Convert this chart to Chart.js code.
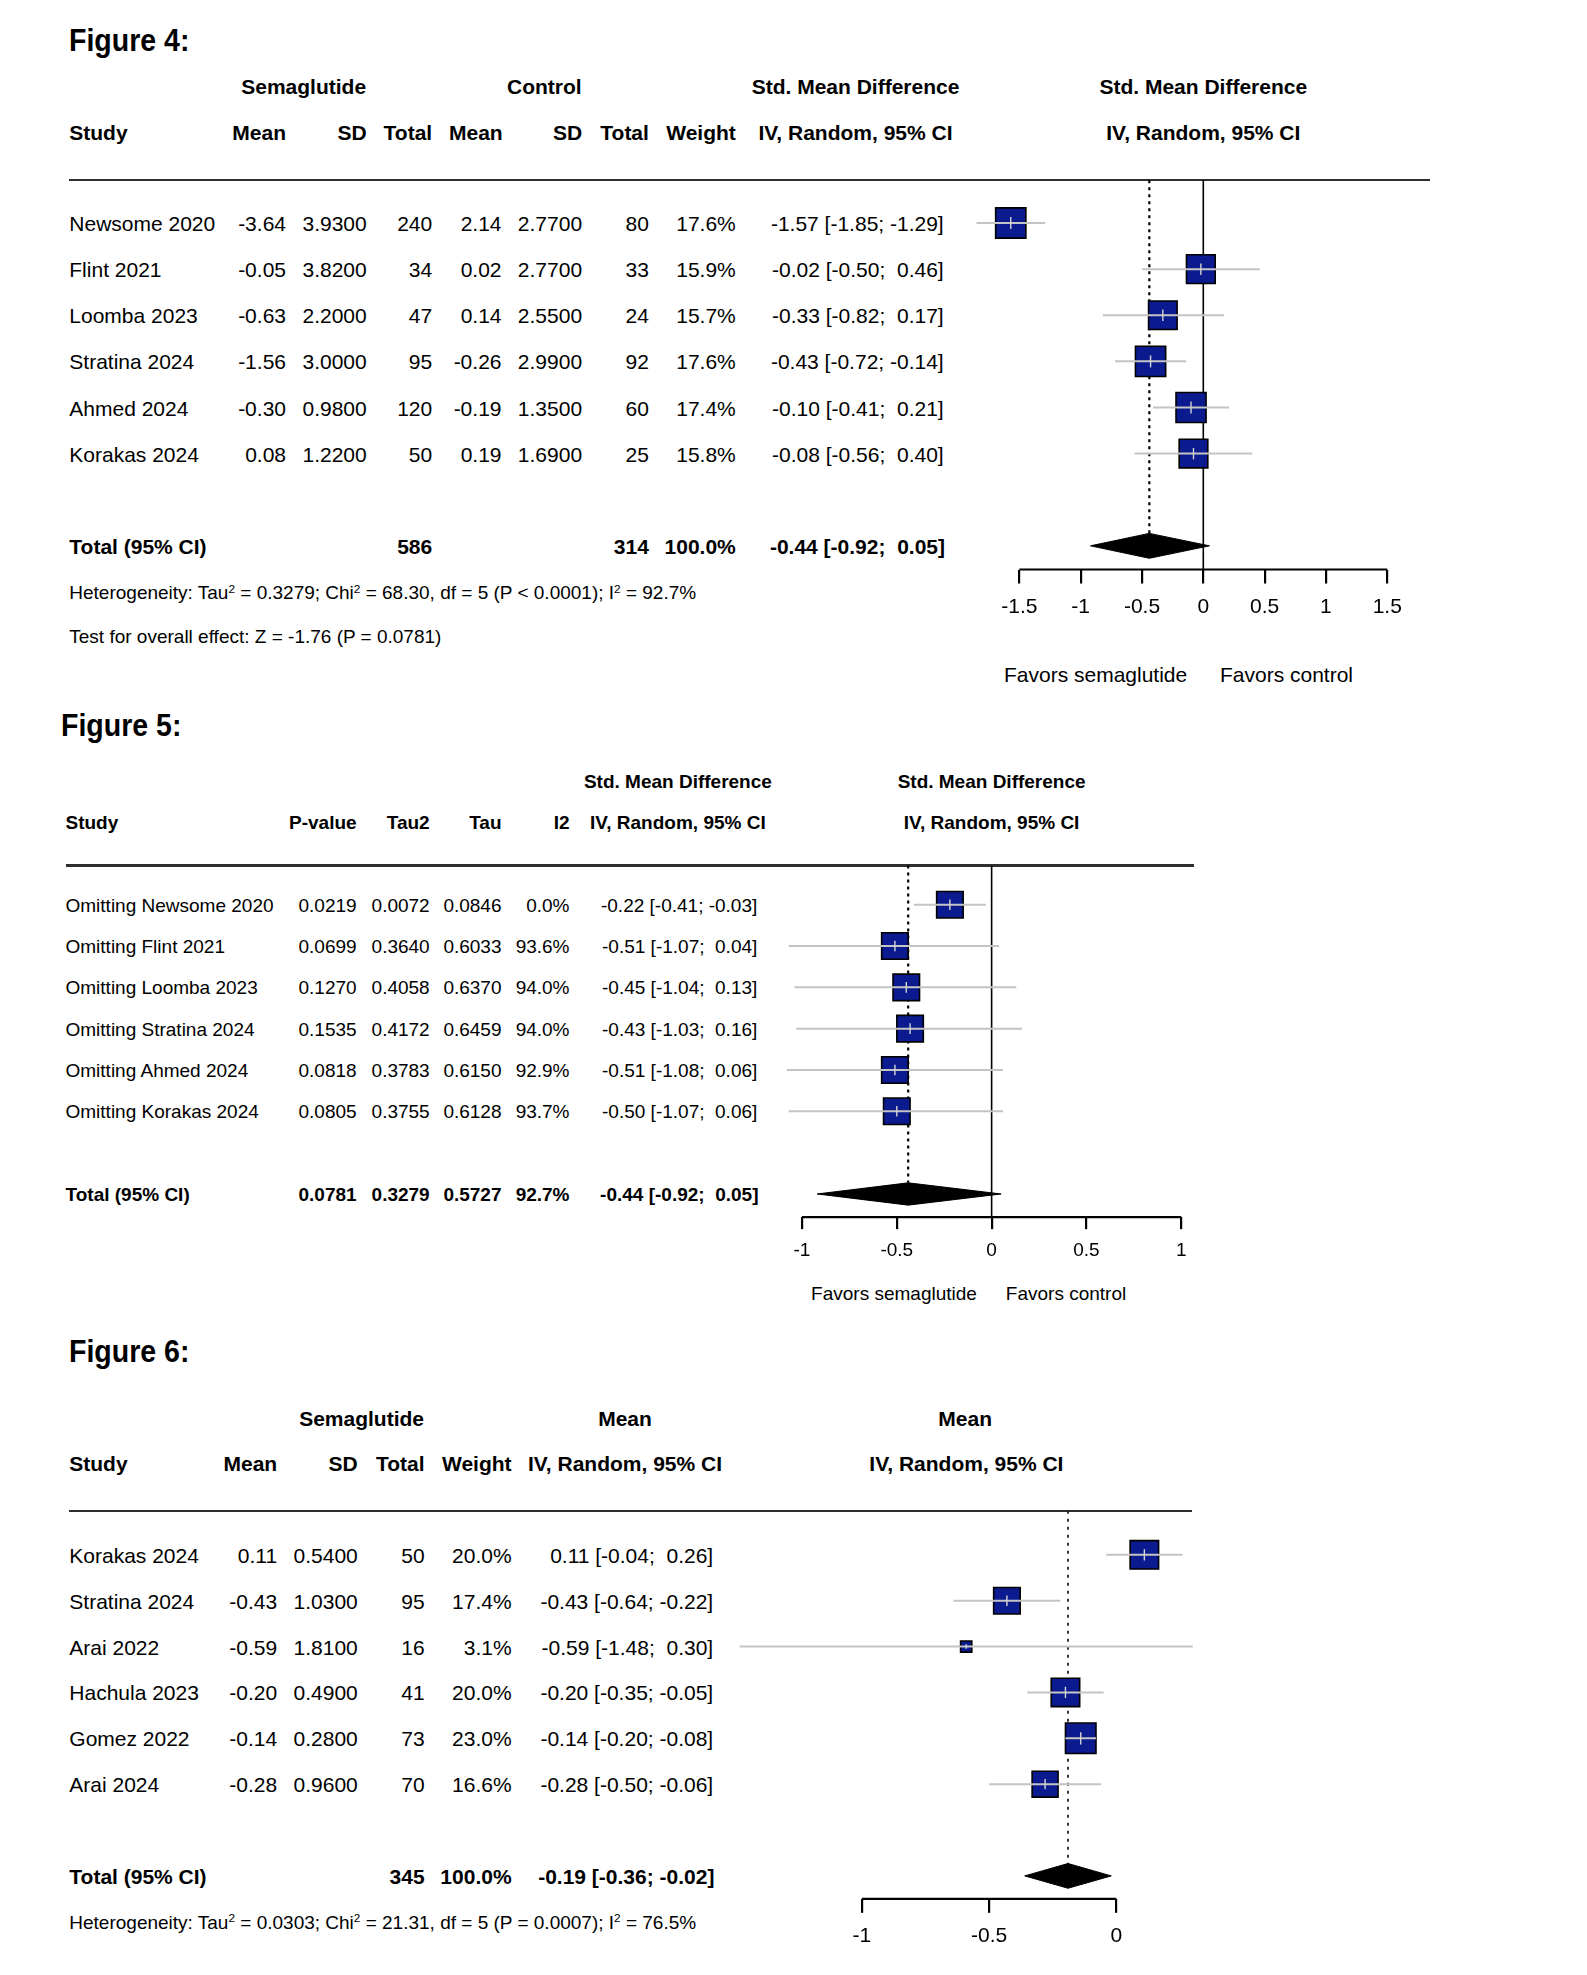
<!DOCTYPE html>
<html>
<head>
<meta charset="utf-8">
<title>Forest plots – Figures 4, 5, 6</title>
<script src="https://cdn.jsdelivr.net/npm/chart.js@4.4.1/dist/chart.umd.min.js"></script>
<style>
  html, body { margin: 0; padding: 0; background: #fff; }
  #page { position: relative; width: 1587px; height: 1975px; overflow: hidden; background: #fff;
          font-family: "Liberation Sans", Arial, Helvetica, sans-serif; color: #000; }
  .t { position: absolute; white-space: pre; line-height: 1; transform-origin: 0 0; }
  .sup { font-size: 0.62em; position: relative; top: -0.55em; }
  .rule { position: absolute; height: 2.5px; background: #2e2e2e; }
  canvas { position: absolute; }
</style>
</head>
<body>
<div id="page"></div>
<script>
// ================= DATA =================
// ---- Figure 4 ----
const f4Studies   = ["Newsome 2020", "Flint 2021", "Loomba 2023", "Stratina 2024", "Ahmed 2024", "Korakas 2024"];
const f4SemaMean  = [-3.64, -0.05, -0.63, -1.56, -0.30, 0.08];
const f4SemaSD    = [3.93, 3.82, 2.20, 3.00, 0.98, 1.22];
const f4SemaN     = [240, 34, 47, 95, 120, 50];
const f4CtrlMean  = [2.14, 0.02, 0.14, -0.26, -0.19, 0.19];
const f4CtrlSD    = [2.77, 2.77, 2.55, 2.99, 1.35, 1.69];
const f4CtrlN     = [80, 33, 24, 92, 60, 25];
const f4Weight    = [17.6, 15.9, 15.7, 17.6, 17.4, 15.8];
const f4SMD       = [-1.57, -0.02, -0.33, -0.43, -0.10, -0.08];
const f4Lo        = [-1.85, -0.50, -0.82, -0.72, -0.41, -0.56];
const f4Hi        = [-1.29, 0.46, 0.17, -0.14, 0.21, 0.40];
const f4TotalN    = [586, 314];
const f4Pooled    = [-0.44, -0.92, 0.05];   // estimate, lower, upper
const f4Ticks     = [-1.5, -1, -0.5, 0, 0.5, 1, 1.5];

// ---- Figure 5 (leave-one-out) ----
const f5Omitted   = ["Newsome 2020", "Flint 2021", "Loomba 2023", "Stratina 2024", "Ahmed 2024", "Korakas 2024"];
const f5P         = [0.0219, 0.0699, 0.1270, 0.1535, 0.0818, 0.0805];
const f5Tau2      = [0.0072, 0.3640, 0.4058, 0.4172, 0.3783, 0.3755];
const f5Tau       = [0.0846, 0.6033, 0.6370, 0.6459, 0.6150, 0.6128];
const f5I2        = [0.0, 93.6, 94.0, 94.0, 92.9, 93.7];
const f5SMD       = [-0.22, -0.51, -0.45, -0.43, -0.51, -0.50];
const f5Lo        = [-0.41, -1.07, -1.04, -1.03, -1.08, -1.07];
const f5Hi        = [-0.03, 0.04, 0.13, 0.16, 0.06, 0.06];
const f5TotalStat = [0.0781, 0.3279, 0.5727, 92.7]; // P, Tau2, Tau, I2
const f5Pooled    = [-0.44, -0.92, 0.05];
const f5Ticks     = [-1, -0.5, 0, 0.5, 1];

// ---- Figure 6 ----
const f6Studies   = ["Korakas 2024", "Stratina 2024", "Arai 2022", "Hachula 2023", "Gomez 2022", "Arai 2024"];
const f6Mean      = [0.11, -0.43, -0.59, -0.20, -0.14, -0.28];
const f6SD        = [0.54, 1.03, 1.81, 0.49, 0.28, 0.96];
const f6N         = [50, 95, 16, 41, 73, 70];
const f6Weight    = [20.0, 17.4, 3.1, 20.0, 23.0, 16.6];
const f6Lo        = [-0.04, -0.64, -1.48, -0.35, -0.20, -0.50];
const f6Hi        = [0.26, -0.22, 0.30, -0.05, -0.08, -0.06];
const f6TotalN    = [345];
const f6Pooled    = [-0.19, -0.36, -0.02];
const f6Ticks     = [-1, -0.5, 0];

// ================= HELPERS =================
const S = 1.26;                       // layout units -> page px
const page = document.getElementById('page');
const NAVY = '#0b1a8f', CI_GRAY = '#c4c4c4', MARK_GRAY = '#d4d4d4';

function T(html, x, y, o) {
  o = o || {};
  const el = document.createElement('div');
  el.className = 't';
  const size = o.size || 21;
  const sx = (o.sx == null) ? 1 : o.sx;
  el.style.left = (x * S).toFixed(1) + 'px';
  el.style.top = (y * S).toFixed(1) + 'px';
  el.style.fontSize = size + 'px';
  if (o.bold) el.style.fontWeight = '700';
  const tx = o.align === 'right' ? '-100%' : (o.align === 'center' ? '-50%' : '0');
  el.style.transform = 'scaleX(' + sx + ') translate(' + tx + ',-50%)';
  el.innerHTML = html;
  page.appendChild(el);
}
function rule(x1, x2, y) {
  const d = document.createElement('div');
  d.className = 'rule';
  d.style.left = (x1 * S) + 'px';
  d.style.width = ((x2 - x1) * S) + 'px';
  d.style.top = (y * S - 1.2) + 'px';
  page.appendChild(d);
}
const f2 = v => v.toFixed(2);
const f4 = v => v.toFixed(4);
const pc = v => v.toFixed(1) + '%';
const sp = v => (v >= 0 ? ' ' : '') + f2(v);
const ciTxt = (e, l, h) => f2(e) + ' [' + sp(l) + '; ' + sp(h) + ']';
const sup = n => '<span class="sup">' + n + '</span>';

// Forest plot panel drawn with Chart.js
function forest(c) {
  const X = v => (c.zeroD + v * c.unitD) * S;
  const top = c.topD * S, bottom = c.bottomD * S;
  const row1 = c.row1D * S, gap = c.gapD * S;
  const yMin = 1 - (row1 - top) / gap;
  const yMax = 1 + (bottom - row1) / gap;
  const left = Math.round(X(c.view[0]));
  const w = Math.round(X(c.view[1]) - left);
  const xMin = (left / S - c.zeroD) / c.unitD;
  const xMax = ((left + w) / S - c.zeroD) / c.unitD;
  const cTop = Math.floor(top) - 8;
  const padT = top - cTop;
  const h = Math.ceil(padT + (bottom - top) + 72);
  const axisH = h - padT - (bottom - top);

  const cv = document.createElement('canvas');
  cv.width = w; cv.height = h;
  cv.style.left = left + 'px'; cv.style.top = cTop + 'px';
  cv.style.width = w + 'px'; cv.style.height = h + 'px';
  page.appendChild(cv);

  const n = c.est.length;
  const rows = c.est.map((_, i) => i + 1);
  const pRow = n + 2;
  const dh = 0.27;
  const axisMin = c.ticks[0], axisMax = c.ticks[c.ticks.length - 1];

  const datasets = [
    { // centre marks inside squares
      type: 'scatter',
      data: c.est.map((e, i) => ({ x: e, y: rows[i] })),
      pointStyle: 'line', pointRotation: 90,
      pointRadius: ctx => c.side(ctx.dataIndex) * 0.2,
      pointBorderColor: MARK_GRAY, pointBorderWidth: 1.4,
      pointBackgroundColor: MARK_GRAY, clip: false
    },
    { // confidence intervals
      type: 'line',
      data: c.lo.flatMap((l, i) => [{ x: l, y: rows[i] }, { x: c.hi[i], y: rows[i] }, { x: null, y: null }]),
      borderColor: CI_GRAY, borderWidth: 2, pointRadius: 0, fill: false, spanGaps: false, clip: false
    },
    { // study squares
      type: 'scatter',
      data: c.est.map((e, i) => ({ x: e, y: rows[i] })),
      pointStyle: 'rect',
      pointRadius: ctx => c.side(ctx.dataIndex) / Math.SQRT2,
      pointBackgroundColor: NAVY, pointBorderColor: '#000', pointBorderWidth: 1.6, clip: false
    },
    { // diamond upper half
      type: 'line',
      data: [{ x: c.pooled[1], y: pRow }, { x: c.pooled[0], y: pRow - dh }, { x: c.pooled[2], y: pRow }],
      borderColor: '#000', borderWidth: 1, backgroundColor: '#000', pointRadius: 0, fill: '+1', clip: false
    },
    { // diamond lower half
      type: 'line',
      data: [{ x: c.pooled[1], y: pRow }, { x: c.pooled[0], y: pRow + dh }, { x: c.pooled[2], y: pRow }],
      borderColor: '#000', borderWidth: 1, backgroundColor: '#000', pointRadius: 0, fill: false, clip: false
    },
    { // pooled estimate dotted line
      type: 'line',
      data: [{ x: c.pooled[0], y: yMin }, { x: c.pooled[0], y: pRow - dh }],
      borderColor: c.dotColor || '#000', borderWidth: c.dotWidth || 2.2, borderDash: c.dash || [3, 4],
      pointRadius: 0, fill: false, clip: false
    },
    { // axis base line
      type: 'line',
      data: [{ x: axisMin, y: yMax }, { x: axisMax, y: yMax }],
      borderColor: '#000', borderWidth: 2.2, pointRadius: 0, fill: false, clip: false
    }
  ];
  if (c.nullLine) {
    datasets.push({ // line of no effect
      type: 'line',
      data: [{ x: 0, y: yMin }, { x: 0, y: yMax }],
      borderColor: '#000', borderWidth: 1.6, pointRadius: 0, fill: false, clip: false
    });
  }

  new Chart(cv, {
    type: 'scatter',
    data: { datasets },
    options: {
      responsive: false, animation: false, events: [],
      layout: { autoPadding: false, padding: { top: padT, left: 0, right: 0, bottom: 0 } },
      plugins: { legend: { display: false }, tooltip: { enabled: false } },
      scales: {
        x: {
          type: 'linear', min: xMin, max: xMax,
          afterBuildTicks: s => { s.ticks = c.ticks.map(v => ({ value: v })); },
          afterFit: s => { s.height = axisH; },
          border: { display: false },
          grid: { drawOnChartArea: false, drawTicks: true, tickLength: c.tickLen, color: '#000', lineWidth: 2.2 },
          ticks: {
            autoSkip: false, maxRotation: 0, padding: c.tickPad, color: '#000',
            font: { family: '"Liberation Sans", Arial, sans-serif', size: c.tickFont },
            callback: v => String(+Number(v).toFixed(2))
          }
        },
        y: { type: 'linear', display: false, reverse: true, min: yMin, max: yMax }
      }
    }
  });
}

// ================= FIGURE 4 =================
(function () {
  const r1 = 177, g = 36.6, B = 21;
  T('Figure 4:', 55, 32, { size: 31, bold: true, sx: 0.92 });
  T('Semaglutide', 241, 68, { bold: true, align: 'center' });
  T('Control', 432, 68, { bold: true, align: 'center' });
  T('Std. Mean Difference', 679, 68, { bold: true, align: 'center' });
  T('Std. Mean Difference', 955, 68, { bold: true, align: 'center' });
  T('Study', 55, 105, { bold: true });
  T('Mean', 227, 105, { bold: true, align: 'right' });
  T('SD', 291, 105, { bold: true, align: 'right' });
  T('Total', 343, 105, { bold: true, align: 'right' });
  T('Mean', 399, 105, { bold: true, align: 'right' });
  T('SD', 462, 105, { bold: true, align: 'right' });
  T('Total', 515, 105, { bold: true, align: 'right' });
  T('Weight', 584, 105, { bold: true, align: 'right' });
  T('IV, Random, 95% CI', 679, 105, { bold: true, align: 'center' });
  T('IV, Random, 95% CI', 955, 105, { bold: true, align: 'center' });
  rule(55, 1135, 143);
  f4Studies.forEach((s, i) => {
    const y = r1 + i * g;
    T(s, 55, y);
    T(f2(f4SemaMean[i]), 227, y, { align: 'right' });
    T(f4(f4SemaSD[i]), 291, y, { align: 'right' });
    T(String(f4SemaN[i]), 343, y, { align: 'right' });
    T(f2(f4CtrlMean[i]), 398, y, { align: 'right' });
    T(f4(f4CtrlSD[i]), 462, y, { align: 'right' });
    T(String(f4CtrlN[i]), 515, y, { align: 'right' });
    T(pc(f4Weight[i]), 584, y, { align: 'right' });
    T(ciTxt(f4SMD[i], f4Lo[i], f4Hi[i]), 749, y, { align: 'right' });
  });
  const ty = r1 + 7 * g;
  T('Total (95% CI)', 55, ty, { bold: true });
  T(String(f4TotalN[0]), 343, ty, { bold: true, align: 'right' });
  T(String(f4TotalN[1]), 515, ty, { bold: true, align: 'right' });
  T('100.0%', 584, ty, { bold: true, align: 'right' });
  T(ciTxt(f4Pooled[0], f4Pooled[1], f4Pooled[2]), 750, ty, { bold: true, align: 'right' });
  T('Heterogeneity: Tau' + sup(2) + ' = 0.3279; Chi' + sup(2) + ' = 68.30, df = 5 (P &lt; 0.0001); I' + sup(2) + ' = 92.7%', 55, 470, { size: 19 });
  T('Test for overall effect: Z = -1.76 (P = 0.0781)', 55, 505, { size: 19 });
  T('Favors semaglutide', 869.5, 535, { size: B, align: 'center' });
  T('Favors control', 1021, 535, { size: B, align: 'center' });

  forest({
    zeroD: 955, unitD: 97.33, topD: 143, bottomD: 452, row1D: r1, gapD: g,
    view: [-1.95, 1.75], ticks: f4Ticks, tickFont: 21, tickLen: 14, tickPad: 11,
    est: f4SMD, lo: f4Lo, hi: f4Hi,
    side: i => 30.2 * Math.sqrt(f4Weight[i] / 17.6),
    pooled: f4Pooled, nullLine: true
  });
})();

// ================= FIGURE 5 =================
(function () {
  const r1 = 718, g = 32.8, F = 19;
  T('Figure 5:', 48, 575, { size: 31, bold: true, sx: 0.92 });
  T('Std. Mean Difference', 538, 620, { bold: true, align: 'center', size: F });
  T('Std. Mean Difference', 787, 620, { bold: true, align: 'center', size: F });
  T('Study', 52, 652, { bold: true, size: F });
  T('P-value', 283, 652, { bold: true, align: 'right', size: F });
  T('Tau2', 341, 652, { bold: true, align: 'right', size: F });
  T('Tau', 398, 652, { bold: true, align: 'right', size: F });
  T('I2', 452, 652, { bold: true, align: 'right', size: F });
  T('IV, Random, 95% CI', 538, 652, { bold: true, align: 'center', size: F });
  T('IV, Random, 95% CI', 787, 652, { bold: true, align: 'center', size: F });
  rule(52, 948, 687);
  f5Omitted.forEach((s, i) => {
    const y = r1 + i * g;
    T('Omitting ' + s, 52, y, { size: F });
    T(f4(f5P[i]), 283, y, { align: 'right', size: F });
    T(f4(f5Tau2[i]), 341, y, { align: 'right', size: F });
    T(f4(f5Tau[i]), 398, y, { align: 'right', size: F });
    T(pc(f5I2[i]), 452, y, { align: 'right', size: F });
    T(ciTxt(f5SMD[i], f5Lo[i], f5Hi[i]), 601, y, { align: 'right', size: F });
  });
  const ty = r1 + 7 * g;
  T('Total (95% CI)', 52, ty, { bold: true, size: F });
  T(f4(f5TotalStat[0]), 283, ty, { bold: true, align: 'right', size: F });
  T(f4(f5TotalStat[1]), 341, ty, { bold: true, align: 'right', size: F });
  T(f4(f5TotalStat[2]), 398, ty, { bold: true, align: 'right', size: F });
  T(pc(f5TotalStat[3]), 452, ty, { bold: true, align: 'right', size: F });
  T(ciTxt(f5Pooled[0], f5Pooled[1], f5Pooled[2]), 602, ty, { bold: true, align: 'right', size: F });
  T('Favors semaglutide', 709.5, 1026, { size: 19, align: 'center' });
  T('Favors control', 846, 1026, { size: 19, align: 'center' });

  forest({
    zeroD: 787, unitD: 150.5, topD: 687, bottomD: 966, row1D: r1, gapD: g,
    view: [-1.17, 1.1], ticks: f5Ticks, tickFont: 19, tickLen: 12, tickPad: 10,
    est: f5SMD, lo: f5Lo, hi: f5Hi,
    side: () => 26.5,
    pooled: f5Pooled, nullLine: true
  });
})();

// ================= FIGURE 6 =================
(function () {
  const r1 = 1234, g = 36.4;
  T('Figure 6:', 55, 1072, { size: 31, bold: true, sx: 0.92 });
  T('Semaglutide', 287, 1125, { bold: true, align: 'center' });
  T('Mean', 496, 1125, { bold: true, align: 'center' });
  T('Mean', 766, 1125, { bold: true, align: 'center' });
  T('Study', 55, 1161, { bold: true });
  T('Mean', 220, 1161, { bold: true, align: 'right' });
  T('SD', 284, 1161, { bold: true, align: 'right' });
  T('Total', 337, 1161, { bold: true, align: 'right' });
  T('Weight', 406, 1161, { bold: true, align: 'right' });
  T('IV, Random, 95% CI', 496, 1161, { bold: true, align: 'center' });
  T('IV, Random, 95% CI', 767, 1161, { bold: true, align: 'center' });
  rule(55, 946, 1199);
  f6Studies.forEach((s, i) => {
    const y = r1 + i * g;
    T(s, 55, y);
    T(f2(f6Mean[i]), 220, y, { align: 'right' });
    T(f4(f6SD[i]), 284, y, { align: 'right' });
    T(String(f6N[i]), 337, y, { align: 'right' });
    T(pc(f6Weight[i]), 406, y, { align: 'right' });
    T(ciTxt(f6Mean[i], f6Lo[i], f6Hi[i]), 566, y, { align: 'right' });
  });
  const ty = r1 + 7 * g;
  T('Total (95% CI)', 55, ty, { bold: true });
  T(String(f6TotalN[0]), 337, ty, { bold: true, align: 'right' });
  T('100.0%', 406, ty, { bold: true, align: 'right' });
  T(ciTxt(f6Pooled[0], f6Pooled[1], f6Pooled[2]), 567, ty, { bold: true, align: 'right' });
  T('Heterogeneity: Tau' + sup(2) + ' = 0.0303; Chi' + sup(2) + ' = 21.31, df = 5 (P = 0.0007); I' + sup(2) + ' = 76.5%', 55, 1525, { size: 19 });

  forest({
    zeroD: 886, unitD: 202, topD: 1199, bottomD: 1507, row1D: r1, gapD: g,
    view: [-1.53, 0.37], ticks: f6Ticks, tickFont: 21, tickLen: 14, tickPad: 11,
    est: f6Mean, lo: f6Lo, hi: f6Hi,
    side: i => 30.5 * Math.sqrt(f6Weight[i] / 23),
    pooled: f6Pooled, nullLine: false,
    dotColor: '#222', dotWidth: 1.8, dash: [3, 5]
  });
})();
</script>
</body>
</html>
